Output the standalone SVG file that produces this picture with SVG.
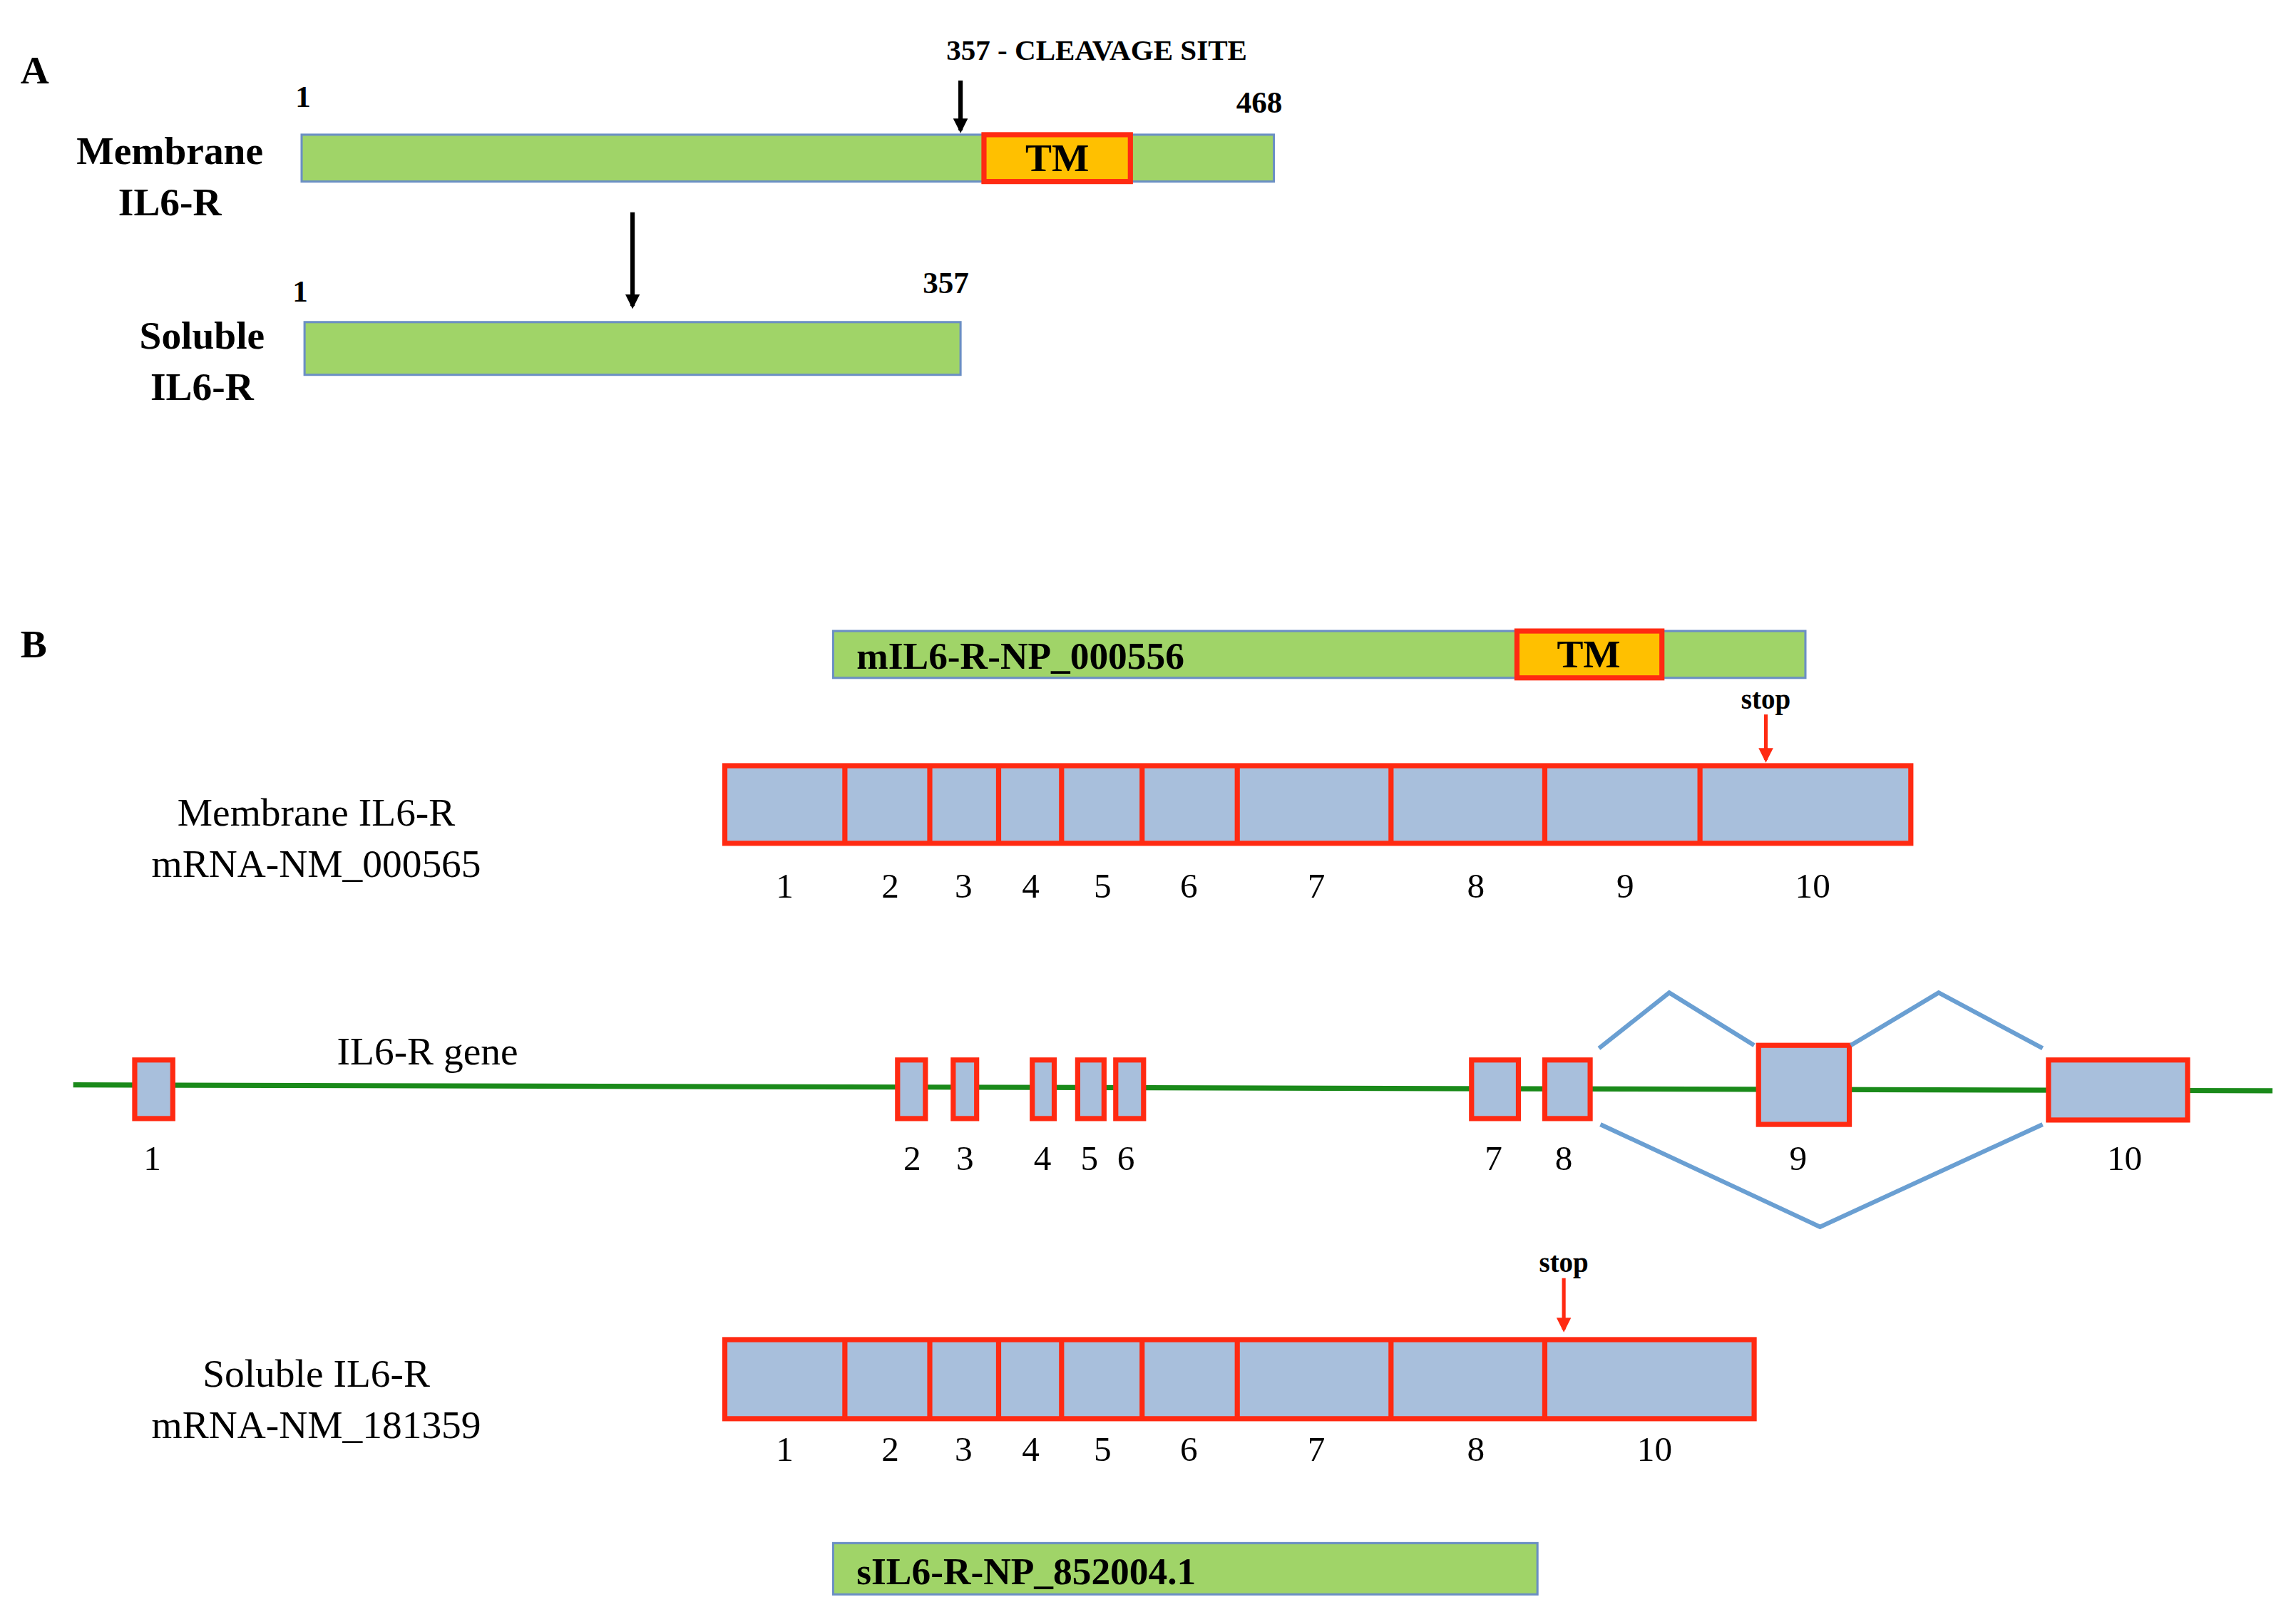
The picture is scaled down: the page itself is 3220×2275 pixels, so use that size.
<svg xmlns="http://www.w3.org/2000/svg" width="3220" height="2275" viewBox="0 0 3220 2275">
<style>
text{font-family:"Liberation Serif","DejaVu Serif",serif;fill:#000}
.b{font-weight:bold}
.lab{font-size:27px;text-anchor:middle}
.num{font-size:24px;text-anchor:middle}
.bar{fill:#a0d468;stroke:#6b8fc4;stroke-width:1.5}
.tm{fill:#ffc000;stroke:#ff2a12;stroke-width:3.5}
.ex{fill:#a8bfdc;stroke:#ff2a12;stroke-width:3.5}
.spl{fill:none;stroke:#6a9fd2;stroke-width:3}
</style>
<defs>
<marker id="ak" markerWidth="10" markerHeight="10" refX="8" refY="5" orient="auto" markerUnits="userSpaceOnUse"><path d="M0,0 L10,5 L0,10 z" fill="#000"/></marker>
<marker id="ar" markerWidth="10" markerHeight="10" refX="8" refY="5" orient="auto" markerUnits="userSpaceOnUse"><path d="M0,0 L10,5 L0,10 z" fill="#ff2a12"/></marker>
</defs>
<rect width="3220" height="2275" fill="#fff"/>
<g transform="scale(2.0535)">
<g id="panelA">
<text x="14" y="57" class="b" font-size="27">A</text>
<text x="207" y="73" class="b" font-size="21" text-anchor="middle">1</text>
<text x="116" y="112" class="b lab">Membrane</text>
<text x="116" y="147" class="b lab">IL6-R</text>
<g id="mbar"><rect x="206" y="92" width="664" height="32" class="bar"/>
<rect x="672" y="92" width="100" height="32" class="tm"/>
<text x="722" y="117" class="b lab" font-size="24">TM</text></g>
<text x="749" y="41" class="b" font-size="20" text-anchor="middle">357 - CLEAVAGE SITE</text>
<text x="860" y="77" class="b" font-size="21" text-anchor="middle">468</text>
<text x="205" y="206" class="b" font-size="21" text-anchor="middle">1</text>
<text x="646" y="200" class="b" font-size="21" text-anchor="middle">357</text>
<text x="138" y="238" class="b lab">Soluble</text>
<text x="138" y="273" class="b lab">IL6-R</text>
<rect id="sbar" x="208" y="220" width="448" height="36" class="bar"/>
</g>
<g id="panelB">
<text x="14" y="449" class="b" font-size="27">B</text>
<g id="mprot"><rect x="569" y="431" width="664" height="32" class="bar"/>
<rect x="1036" y="431" width="99" height="32" class="tm"/>
<text x="1085" y="456" class="b lab" font-size="24">TM</text>
<text x="585" y="457" class="b" font-size="26">mIL6-R-NP_000556</text></g>
<text x="1206" y="484" class="b" font-size="19" text-anchor="middle">stop</text>
<text x="216" y="564" class="lab">Membrane IL6-R</text>
<text x="216" y="599" class="lab">mRNA-NM_000565</text>
<g id="mrna1">
<rect x="495" y="523" width="810" height="53" class="ex"/>
<path d="M577,523V576M635,523V576M682,523V576M725,523V576M780,523V576M845,523V576M950,523V576M1055,523V576M1161,523V576" stroke="#ff2a12" stroke-width="3.5"/>
<g class="num"><text x="536" y="613">1</text><text x="608" y="613">2</text><text x="658" y="613">3</text><text x="704" y="613">4</text><text x="753" y="613">5</text><text x="812" y="613">6</text><text x="899" y="613">7</text><text x="1008" y="613">8</text><text x="1110" y="613">9</text><text x="1238" y="613">10</text></g>
</g>
<g id="gene">
<path d="M50,741 L1552,745" stroke="#1a8a1a" stroke-width="3.5"/>
<text x="292" y="727" class="lab">IL6-R gene</text>
<rect x="92" y="724" width="26" height="40" class="ex"/>
<rect x="613" y="724" width="19" height="40" class="ex"/>
<rect x="651" y="724" width="16" height="40" class="ex"/>
<rect x="705" y="724" width="15" height="40" class="ex"/>
<rect x="736" y="724" width="18" height="40" class="ex"/>
<rect x="762" y="724" width="19" height="40" class="ex"/>
<rect x="1005" y="724" width="32" height="40" class="ex"/>
<rect x="1055" y="724" width="31" height="40" class="ex"/>
<rect x="1201" y="714" width="62" height="54" class="ex"/>
<rect x="1399" y="724" width="95" height="41" class="ex"/>
<g class="num"><text x="104" y="799">1</text><text x="623" y="799">2</text><text x="659" y="799">3</text><text x="712" y="799">4</text><text x="744" y="799">5</text><text x="769" y="799">6</text><text x="1020" y="799">7</text><text x="1068" y="799">8</text><text x="1228" y="799">9</text><text x="1451" y="799">10</text></g>
</g>
<text x="1068" y="869" class="b" font-size="19" text-anchor="middle">stop</text>
<text x="216" y="947" class="lab">Soluble IL6-R</text>
<text x="216" y="982" class="lab">mRNA-NM_181359</text>
<g id="mrna2">
<rect x="495" y="915" width="703" height="54" class="ex"/>
<path d="M577,915V969M635,915V969M682,915V969M725,915V969M780,915V969M845,915V969M950,915V969M1055,915V969" stroke="#ff2a12" stroke-width="3.5"/>
<g class="num"><text x="536" y="998">1</text><text x="608" y="998">2</text><text x="658" y="998">3</text><text x="704" y="998">4</text><text x="753" y="998">5</text><text x="812" y="998">6</text><text x="899" y="998">7</text><text x="1008" y="998">8</text><text x="1130" y="998">10</text></g>
</g>
<g id="sprot"><rect x="569" y="1054" width="481" height="35" class="bar"/>
<text x="585" y="1082" class="b" font-size="26">sIL6-R-NP_852004.1</text></g>
</g>
<g id="connectors">
<path d="M656,55 V89" stroke="#000" stroke-width="3" marker-end="url(#ak)"/>
<path d="M432,145 V209" stroke="#000" stroke-width="3" marker-end="url(#ak)"/>
<path d="M1206,488 V519" stroke="#ff2a12" stroke-width="2.5" marker-end="url(#ar)"/>
<path d="M1068,873 V908" stroke="#ff2a12" stroke-width="2.5" marker-end="url(#ar)"/>
<path d="M1092,716 L1140,678 L1198,714" class="spl"/>
<path d="M1264,714 L1324,678 L1395,716" class="spl"/>
<path d="M1093,768 L1243,838 L1395,768" class="spl"/>
</g>
</g>
</svg>
